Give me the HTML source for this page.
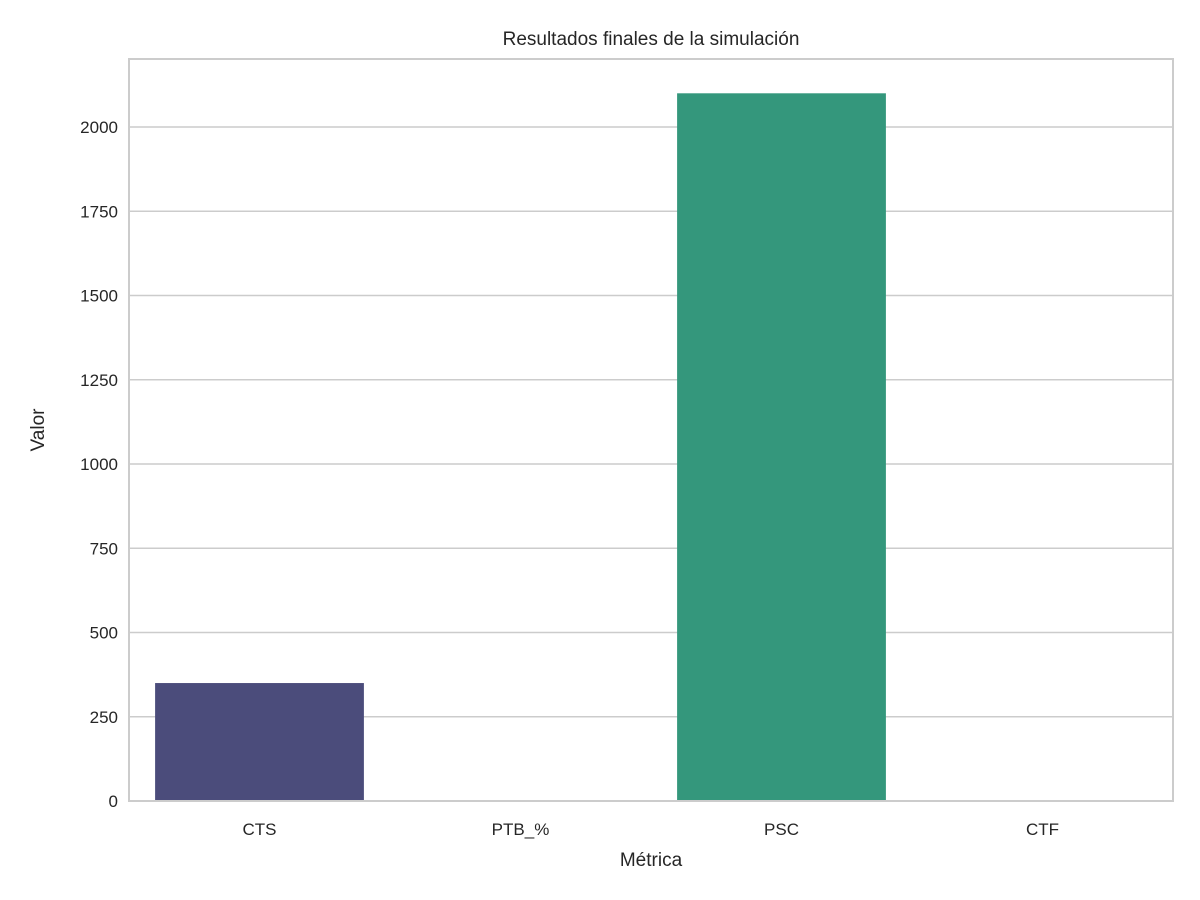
<!DOCTYPE html>
<html><head><meta charset="utf-8"><style>
body{margin:0;background:#fff;}
svg{display:block;font-family:"Liberation Sans","DejaVu Sans",sans-serif;}
</style></head><body>
<svg id="chart" width="1200" height="900">
<text x="651" y="45" text-anchor="middle" font-size="19" fill="#262626">Resultados finales de la simulación</text>
<g id="grid"></g>
<g id="bars"></g>
<rect x="129" y="59" width="1044" height="742" fill="none" stroke="#cccccc" stroke-width="2"/>
<g id="yticks"></g>
<g id="xticks"></g>
<text x="651" y="866" text-anchor="middle" font-size="19" fill="#262626">Métrica</text>
<text transform="translate(44,430) rotate(-90)" text-anchor="middle" font-size="19" fill="#262626">Valor</text>
</svg>
<script>
const categories = ["CTS","PTB_%","PSC","CTF"];
const values = [350, 0.5, 2100, 0.8];
const colors = ["#4b4c7b","#2f7387","#34977c","#7ac555"];
const yTicks = [0,250,500,750,1000,1250,1500,1750,2000];
const NS="http://www.w3.org/2000/svg";
const x0=129,x1=1173,yb=801,yt=127;
const y=v=>yb-(v/2000)*(yb-yt);
const band=(x1-x0)/categories.length;
const grid=document.getElementById('grid'),yg=document.getElementById('yticks'),xg=document.getElementById('xticks'),bg=document.getElementById('bars');
yTicks.forEach(t=>{
 const l=document.createElementNS(NS,'line');
 l.setAttribute('x1',x0);l.setAttribute('x2',x1);l.setAttribute('y1',y(t));l.setAttribute('y2',y(t));
 l.setAttribute('stroke','#cccccc');l.setAttribute('stroke-width','1.6');
 
 
 grid.appendChild(l);
 const tx=document.createElementNS(NS,'text');
 tx.setAttribute('x',x0-11);tx.setAttribute('y',y(t)+6);tx.setAttribute('text-anchor','end');
 tx.setAttribute('font-size','17');tx.setAttribute('fill','#262626');tx.textContent=t;
 
 
 yg.appendChild(tx);
});
categories.forEach((c,i)=>{
 const cx=x0+band*(i+0.5),w=band*0.8;
 const r=document.createElementNS(NS,'rect');
 r.setAttribute('x',cx-w/2);r.setAttribute('width',w);
 r.setAttribute('y',y(values[i]));r.setAttribute('height',yb-y(values[i]));
 r.setAttribute('fill',colors[i]);
 
 
 bg.appendChild(r);
 const tx=document.createElementNS(NS,'text');
 tx.setAttribute('x',cx);tx.setAttribute('y',835);tx.setAttribute('text-anchor','middle');
 tx.setAttribute('font-size','17');tx.setAttribute('fill','#262626');tx.textContent=c;
 
 
 xg.appendChild(tx);
});
</script>
</body></html>
